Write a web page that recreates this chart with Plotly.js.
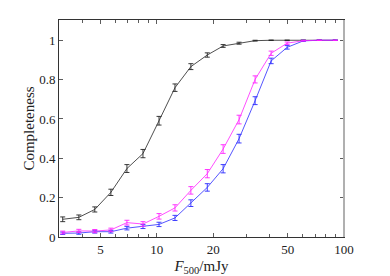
<!DOCTYPE html>
<html>
<head>
<meta charset="utf-8">
<script src="https://cdn.plot.ly/plotly-3.0.1.min.js"></script>
<style>html,body{margin:0;padding:0;background:#fff;}#chart{width:390px;height:276px;}</style>
</head>
<body>
<div id="chart"></div>
<script>
var fluxBins = [3.14, 3.83, 4.66, 5.68, 6.92, 8.43, 10.27, 12.5, 15.2, 18.6, 22.6, 27.5, 33.5, 40.8, 49.7, 60.6, 73.8, 89.9];

var blackComp = [0.09, 0.10, 0.14, 0.227, 0.348, 0.424, 0.591, 0.759, 0.866, 0.925, 0.971, 0.985, 0.998, 1.0, 1.0, 1.0, 1.0, 1.0];
var blackErr  = [0.012, 0.012, 0.013, 0.016, 0.02, 0.021, 0.022, 0.019, 0.015, 0.011, 0.007, 0.005, 0.002, 0.001, 0, 0, 0, 0];

var magentaComp = [0.023, 0.031, 0.030, 0.036, 0.073, 0.066, 0.105, 0.148, 0.237, 0.322, 0.447, 0.597, 0.801, 0.934, 0.985, 0.998, 1.0, 1.0];
var magentaErr  = [0.007, 0.008, 0.008, 0.009, 0.012, 0.012, 0.014, 0.016, 0.019, 0.021, 0.022, 0.022, 0.018, 0.011, 0.006, 0.002, 0.001, 0];

var blueComp = [0.019, 0.020, 0.027, 0.027, 0.045, 0.053, 0.064, 0.097, 0.172, 0.252, 0.347, 0.500, 0.693, 0.895, 0.964, 0.997, 1.0, 1.0];
var blueErr  = [0.006, 0.006, 0.007, 0.007, 0.009, 0.01, 0.011, 0.013, 0.017, 0.019, 0.021, 0.022, 0.02, 0.014, 0.009, 0.003, 0.001, 0];

var xMajorTicks = [5, 10, 20, 50, 100];
var xMajorLabels = ['5', '10', '20', '50', '100'];
var xMinorTicks = [4, 6, 7, 8, 9, 30, 40, 60, 70, 80, 90];
var yTicks = [0, 0.2, 0.4, 0.6, 0.8, 1];
var yLabels = ['0', '0.2', '0.4', '0.6', '0.8', '1'];

function series(y, err, color) {
  return {
    x: fluxBins, y: y, type: 'scatter', mode: 'lines',
    line: {color: color, width: 0.8},
    error_y: {type: 'data', array: err, visible: true, color: color, thickness: 0.9, width: 2.5},
    showlegend: false, hoverinfo: 'skip'
  };
}

var data = [
  series(blackComp, blackErr, '#222222'),
  series(blueComp, blueErr, '#2a2aff'),
  series(magentaComp, magentaErr, '#ff22ff')
];

var fontFam = 'Liberation Serif, DejaVu Serif, serif';
var layout = {
  width: 390, height: 276,
  margin: {l: 59, r: 46, t: 20, b: 39},
  paper_bgcolor: '#fff', plot_bgcolor: '#fff',
  font: {family: fontFam, size: 13, color: '#222'},
  xaxis: {
    type: 'log', range: [Math.log10(3), 2],
    tickmode: 'array', tickvals: xMajorTicks, ticktext: xMajorLabels,
    ticks: 'inside', ticklen: 4, tickwidth: 0.8, tickcolor: '#333',
    minor: {tickmode: 'array', tickvals: xMinorTicks, ticks: 'inside', ticklen: 3, tickwidth: 0.8, tickcolor: '#333', showgrid: false},
    showline: true, linecolor: '#333', linewidth: 1, mirror: 'ticks',
    showgrid: false, zeroline: false,
    tickfont: {family: fontFam, size: 13, color: '#222'},
    title: {text: '<i>F</i><sub>500</sub>/mJy', font: {family: fontFam, size: 15, color: '#222'}, standoff: 6}
  },
  yaxis: {
    range: [0, 1.103],
    tickmode: 'array', tickvals: yTicks, ticktext: yLabels,
    ticks: 'inside', ticklen: 4, tickwidth: 0.8, tickcolor: '#333',
    showline: true, linecolor: '#333', linewidth: 1, mirror: 'ticks',
    showgrid: false, zeroline: false,
    tickfont: {family: fontFam, size: 13, color: '#222'},
    title: {text: 'Completeness', font: {family: fontFam, size: 15, color: '#222'}, standoff: 0}
  },
  shapes: [{type: 'line', xref: 'paper', yref: 'paper', x0: 1, x1: 1, y0: 0, y1: 1,
            line: {color: '#b0b0b0', width: 2}}]
};

Plotly.newPlot('chart', data, layout, {displayModeBar: false, staticPlot: true});
</script>
</body>
</html>
